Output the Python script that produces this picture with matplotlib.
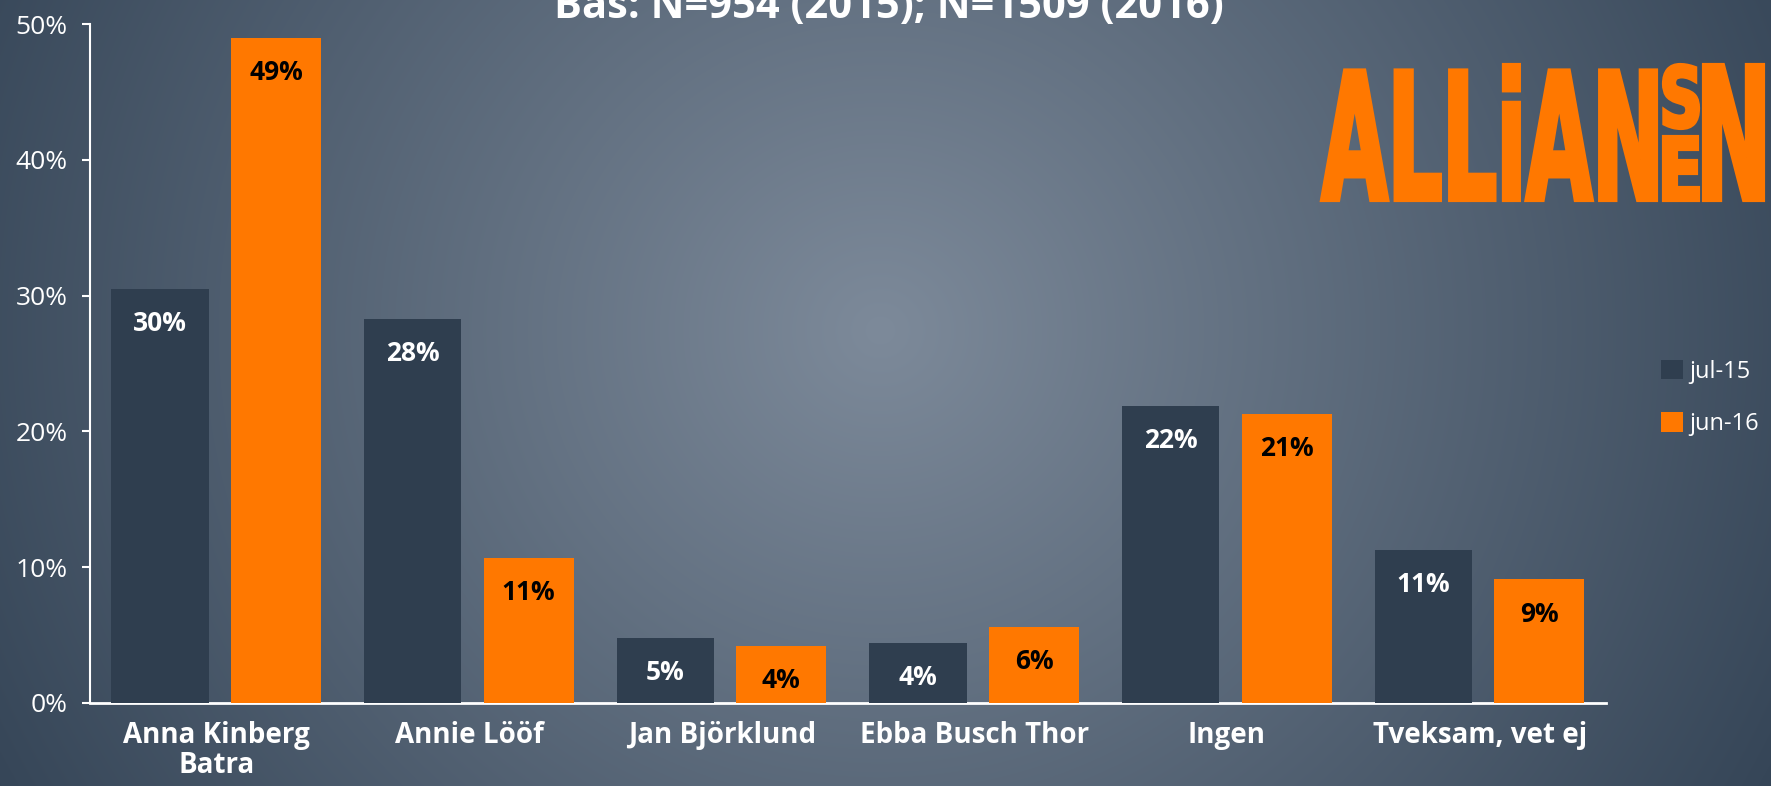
import matplotlib
matplotlib.use("Agg")
import matplotlib.pyplot as plt
import numpy as np
from matplotlib.textpath import TextPath
from matplotlib.font_manager import FontProperties
from matplotlib.patches import PathPatch
from matplotlib.transforms import Affine2D

# data
categories = ["Anna Kinberg\nBatra", "Annie Lööf", "Jan Björklund", "Ebba Busch Thor", "Ingen", "Tveksam, vet ej"]
jul15 = [30.5, 28.3, 4.8, 4.4, 21.9, 11.3]
jun16 = [49.0, 10.7, 4.2, 5.6, 21.3, 9.1]
series_names = ["jul-15", "jun-16"]
yticks = [0, 10, 20, 30, 40, 50]
title = "Bas: N=954 (2015); N=1509 (2016)"

dark = "#2f3e4f"
orange = "#ff7800"
W, H = 1771, 786

plt.rcParams['font.family'] = ['Open Sans', 'DejaVu Sans']

fig = plt.figure(figsize=(W / 100, H / 100), dpi=100)

# radial gradient background
bg = fig.add_axes([0, 0, 1, 1], zorder=-10)
yy, xx = np.mgrid[0:H, 0:W]
r = np.sqrt(((xx - 880) / 1.0) ** 2 + ((yy - 330) / 0.95) ** 2) / 1000
r = np.clip(r, 0, 1)
c0 = np.array([0x7d, 0x8a, 0x9a]) / 255
c1 = np.array([0x36, 0x46, 0x58]) / 255
img = c0[None, None, :] * (1 - r[..., None]) + c1[None, None, :] * r[..., None]
bg.imshow(img, aspect='auto', extent=[0, 1, 0, 1], origin='upper')
bg.axis('off')

ax = fig.add_axes([90 / W, 1 - 703 / H, (1606 - 90) / W, (703 - 24) / H])
ax.patch.set_alpha(0)
x = np.arange(len(categories))
b1 = ax.bar(x - 0.223, jul15, width=0.385, color=dark, zorder=3)
b2 = ax.bar(x + 0.236, jun16, width=0.356, color=orange, zorder=3)

for bars, vals, col in [(b1, jul15, "white"), (b2, jun16, "black")]:
    for b, v in zip(bars, vals):
        ax.annotate(f"{round(v):.0f}%", (b.get_x() + b.get_width() / 2, v),
                    xytext=(0, -25), textcoords='offset points', ha='center', va='center',
                    fontsize=19, fontweight='bold', color=col, zorder=4)

ax.set_xlim(-0.5, len(categories) - 0.5)
ax.set_ylim(0, 50)
ax.set_yticks(yticks)
ax.set_yticklabels([f"{t}%" for t in yticks])
ax.set_xticks(x)
ax.set_xticklabels(categories, fontsize=20, fontweight='bold', color='white', linespacing=1.05)
ax.tick_params(axis='x', length=0, pad=13)
ax.tick_params(axis='y', colors='white', labelsize=19, length=6, width=1.5, pad=10)
for s in ['top', 'right']:
    ax.spines[s].set_visible(False)
ax.spines['left'].set_color('white')
ax.spines['bottom'].set_color('white')
ax.spines['left'].set_linewidth(1.5)
ax.spines['bottom'].set_linewidth(2)

# legend
fig.legend(handles=[b1, b2], labels=series_names, loc='center left',
           bbox_to_anchor=(1640 / W, 1 - 398 / H), frameon=False, fontsize=17,
           labelcolor='white', handlelength=0.9, handleheight=0.9, handletextpad=0.3,
           labelspacing=1.2)

# title (cut at the top edge, as in the original)
fig.text(889 / W, 1 - 18 / H, title, ha='center', va='baseline', fontsize=30,
         fontweight='bold', color='white')

# logo
fp = FontProperties(family='DejaVu Sans', weight='bold')
def logo_piece(s, x0, y0, x1, y1):
    p = TextPath((0, 0), s, size=1, prop=fp)
    ext = p.get_extents()
    sx = (x1 - x0) / W / ext.width
    sy = (y1 - y0) / H / ext.height
    tr = Affine2D().translate(-ext.x0, -ext.y0).scale(sx, sy).translate(x0 / W, 1 - y1 / H)
    fig.patches.append(PathPatch(tr.transform_path(p), facecolor=orange, edgecolor=orange,
                                 lw=3, joinstyle='miter', transform=fig.transFigure, figure=fig))

logo_piece("ALLiAN", 1322, 65, 1656, 200)
logo_piece("S", 1664, 65, 1698, 128)
logo_piece("E", 1664, 137, 1698, 200)
logo_piece("N", 1704, 65, 1763, 200)

fig.savefig("out.png", dpi=100)
